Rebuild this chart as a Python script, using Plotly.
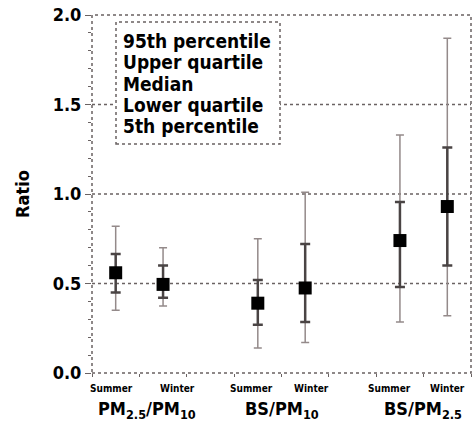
import plotly.graph_objects as go

groups = ["PM<sub>2.5</sub>/PM<sub>10</sub>", "BS/PM<sub>10</sub>", "BS/PM<sub>2.5</sub>"]
seasons = ["Summer", "Winter", "Summer", "Winter", "Summer", "Winter"]
xpos = [0.5, 1.5, 3.5, 4.5, 6.5, 7.5]
p95 = [0.82, 0.70, 0.75, 1.01, 1.33, 1.87]
uq = [0.665, 0.60, 0.52, 0.72, 0.955, 1.26]
median = [0.56, 0.495, 0.39, 0.475, 0.74, 0.93]
lq = [0.45, 0.42, 0.27, 0.285, 0.48, 0.60]
p5 = [0.35, 0.375, 0.14, 0.17, 0.285, 0.32]
yticks = [0.0, 0.5, 1.0, 1.5, 2.0]
legend_lines = ["95th percentile", "Upper quartile", "Median", "Lower quartile", "5th percentile"]

FONT = "DejaVu Sans Condensed, DejaVu Sans"
fig = go.Figure()

# 5th-95th whiskers
fig.add_trace(go.Scatter(
    x=xpos, y=median, mode="markers",
    marker=dict(size=1, color="rgba(0,0,0,0)"),
    error_y=dict(type="data", symmetric=False,
                 array=[a - m for a, m in zip(p95, median)],
                 arrayminus=[m - b for m, b in zip(median, p5)],
                 color="#948a8a", thickness=1.5, width=4),
    showlegend=False, hoverinfo="skip"))
# quartile bars
fig.add_trace(go.Scatter(
    x=xpos, y=median, mode="markers",
    marker=dict(size=1, color="rgba(0,0,0,0)"),
    error_y=dict(type="data", symmetric=False,
                 array=[a - m for a, m in zip(uq, median)],
                 arrayminus=[m - b for m, b in zip(median, lq)],
                 color="#4a4444", thickness=2.5, width=5),
    showlegend=False, hoverinfo="skip"))
# medians
fig.add_trace(go.Scatter(
    x=xpos, y=median, mode="markers",
    marker=dict(symbol="square", size=13, color="black"),
    showlegend=False))

shapes = []
for g in [0.5, 1.0, 1.5]:
    shapes.append(dict(type="line", xref="paper", yref="y", x0=0, x1=1, y0=g, y1=g,
                       line=dict(color="#6a6262", width=1.5, dash="dot"), layer="below"))
shapes.append(dict(type="rect", xref="paper", yref="paper", x0=0, x1=1, y0=0, y1=1,
                   line=dict(color="#6a6262", width=1.5, dash="dot")))
# legend box (paper coords)
L, R, T, B = 92, 471, 15, 373
def px(x): return (x - L) / (R - L)
def py(y): return (B - y) / (B - T)
shapes.append(dict(type="rect", xref="paper", yref="paper",
                   x0=px(116), x1=px(280), y0=py(144), y1=py(22),
                   line=dict(color="#6a6262", width=1.5, dash="dot"),
                   fillcolor="white", layer="above"))

annotations = []
for i, t in enumerate(legend_lines):
    annotations.append(dict(xref="paper", yref="paper", x=px(121), y=py(41 + 21.3 * i),
                            text="<b>" + t + "</b>", showarrow=False, xanchor="left",
                            yanchor="middle", font=dict(family=FONT, size=19, color="black")))
season_x = [0.42, 1.8, 3.36, 4.63, 6.29, 7.51]
for sx, s in zip(season_x, seasons):
    annotations.append(dict(xref="x", yref="paper", x=sx, y=py(388), text="<b>" + s + "</b>",
                            showarrow=False, yanchor="middle",
                            font=dict(family=FONT, size=10, color="black")))
group_x = [1.16, 4.02, 6.98]
for gx, g in zip(group_x, groups):
    annotations.append(dict(xref="x", yref="paper", x=gx, y=py(410), text="<b>" + g + "</b>",
                            showarrow=False, yanchor="middle",
                            font=dict(family=FONT, size=18, color="black")))

fig.update_layout(
    width=475, height=431,
    margin=dict(l=L, r=475 - R, t=T, b=431 - B),
    plot_bgcolor="white", paper_bgcolor="white",
    shapes=shapes, annotations=annotations,
    xaxis=dict(range=[0, 8], tickvals=list(range(9)), showticklabels=False,
               ticks="outside", ticklen=3, tickcolor="#6a6262", showgrid=False,
               zeroline=False, showline=False),
    yaxis=dict(range=[0, 2.0], tickvals=yticks, ticktext=["<b>%.1f</b>" % v for v in yticks],
               ticks="outside", ticklen=6, tickcolor="#6a6262", showgrid=False,
               zeroline=False, showline=False,
               minor=dict(dtick=0.1, ticks="outside", ticklen=3, tickcolor="#6a6262"),
               tickfont=dict(family=FONT, size=18, color="black"),
               title=dict(text="<b>Ratio</b>", font=dict(family=FONT, size=18, color="black"),
                          standoff=18)),
)
fig.write_html("out.html")
